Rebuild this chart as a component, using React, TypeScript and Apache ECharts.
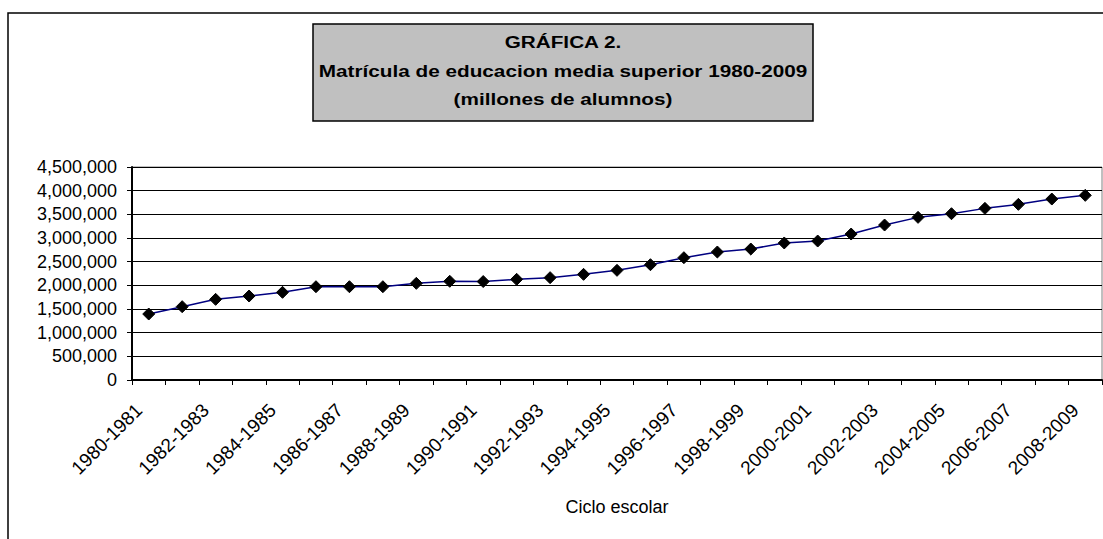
import React, { useEffect, useRef } from "react";
import * as echarts from "echarts";

const categories = [
  "1980-1981", "1981-1982", "1982-1983", "1983-1984", "1984-1985", "1985-1986",
  "1986-1987", "1987-1988", "1988-1989", "1989-1990", "1990-1991", "1991-1992",
  "1992-1993", "1993-1994", "1994-1995", "1995-1996", "1996-1997", "1997-1998",
  "1998-1999", "1999-2000", "2000-2001", "2001-2002", "2002-2003", "2003-2004",
  "2004-2005", "2005-2006", "2006-2007", "2007-2008", "2008-2009",
];

const matricula = [
  1394000, 1549000, 1704000, 1774000, 1852000, 1971000, 1971000, 1971000,
  2042000, 2085000, 2080000, 2127000, 2162000, 2232000, 2317000, 2436000,
  2584000, 2704000, 2767000, 2895000, 2936000, 3084000, 3274000, 3436000,
  3513000, 3626000, 3711000, 3823000, 3901000,
];

const titleLines = [
  "GRÁFICA 2.",
  "Matrícula de educacion media superior 1980-2009",
  "(millones de alumnos)",
];

const xAxisName = "Ciclo escolar";

const FONT = "'Liberation Sans', Arial, Helvetica, sans-serif";

export default function App() {
  const ref = useRef<HTMLDivElement>(null);

  useEffect(() => {
    if (!ref.current) return;
    const chart = echarts.init(ref.current, null, { renderer: "svg" });
    const fmt = (v: number) => v.toLocaleString("en-US");
    chart.setOption({
      animation: false,
      backgroundColor: "#ffffff",
      textStyle: { fontFamily: FONT },
      graphic: [
        {
          type: "rect",
          shape: { x: 8, y: 13, width: 1200, height: 600 },
          style: { fill: "none", stroke: "#000", lineWidth: 1.5 },
          silent: true,
        },
        {
          type: "rect",
          shape: { x: 313, y: 24, width: 500, height: 97 },
          style: { fill: "#c0c0c0", stroke: "#000", lineWidth: 1.5 },
          silent: true,
        },
        ...titleLines.map((t, i) => ({
          type: "text",
          x: 563,
          y: [42, 71, 99][i],
          scaleX: 1.22,
          style: {
            text: t,
            fill: "#000",
            font: `bold 17px ${FONT}`,
            align: "center",
            verticalAlign: "middle",
          },
          silent: true,
        })),
      ],
      grid: {
        left: 132,
        right: 1,
        top: 167,
        bottom: 159,
        show: true,
        borderColor: "#808080",
        borderWidth: 1,
        containLabel: false,
      },
      xAxis: {
        type: "category",
        data: categories,
        boundaryGap: true,
        name: xAxisName,
        nameLocation: "middle",
        nameGap: 118,
        nameTextStyle: { color: "#000", fontSize: 18, fontFamily: FONT },
        axisLine: { show: true, lineStyle: { color: "#000", width: 2 } },
        axisTick: { show: true, interval: 0, length: 5, lineStyle: { color: "#000", width: 1 } },
        axisLabel: {
          interval: 1,
          rotate: 45,
          margin: 17,
          padding: [0, 14, 0, 0],
          color: "#000",
          fontSize: 19,
          fontFamily: FONT,
        },
        splitLine: { show: false },
      },
      yAxis: {
        type: "value",
        min: 0,
        max: 4500000,
        interval: 500000,
        axisLine: { show: true, lineStyle: { color: "#000", width: 2 } },
        axisTick: { show: true, length: 5, lineStyle: { color: "#000", width: 1 } },
        axisLabel: {
          margin: 15,
          color: "#000",
          fontSize: 18,
          fontFamily: FONT,
          formatter: (v: number) => fmt(v),
        },
        splitLine: { show: true, lineStyle: { color: "#000", width: 1 } },
      },
      series: [
        {
          type: "line",
          data: matricula,
          symbol: "diamond",
          symbolSize: 12,
          lineStyle: { color: "#000080", width: 1.5 },
          itemStyle: { color: "#000", borderColor: "#000" },
        },
      ],
    });
    return () => chart.dispose();
  }, []);

  return (
    <div
      ref={ref}
      style={{ position: "absolute", left: 0, top: 0, width: 1103, height: 539 }}
    />
  );
}
